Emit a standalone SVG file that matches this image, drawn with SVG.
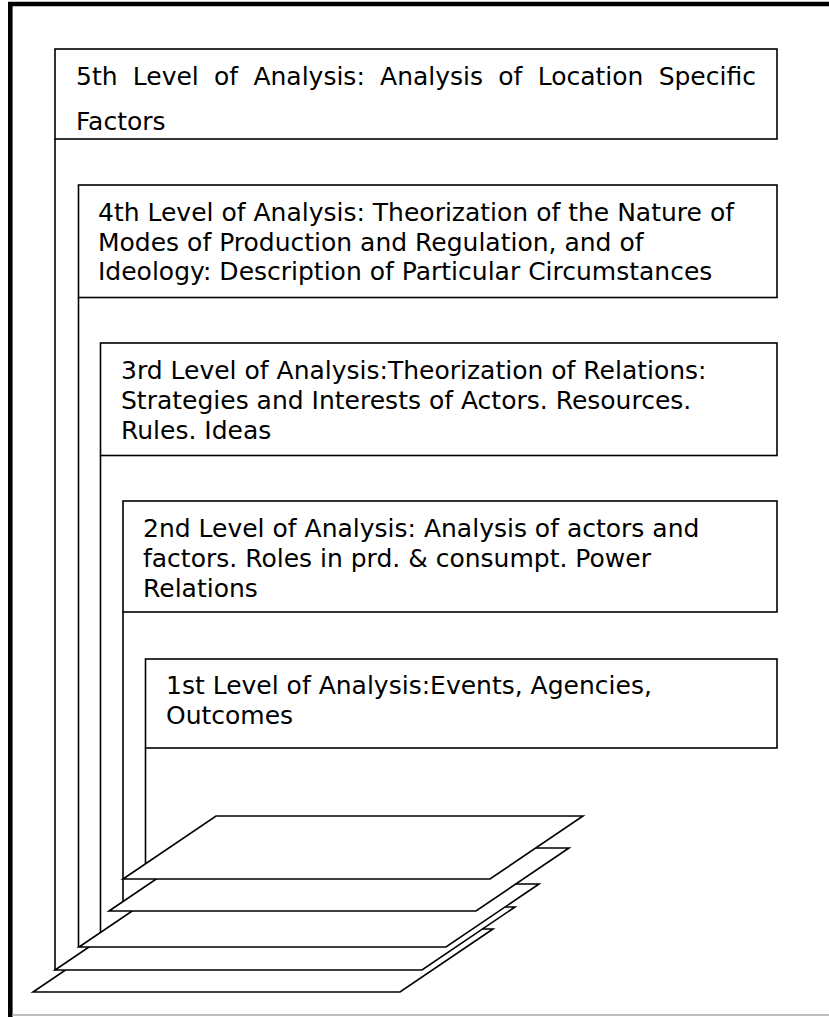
<svg xmlns="http://www.w3.org/2000/svg" width="829" height="1017" viewBox="0 0 829 1017">
  <style>
    .box { fill: #ffffff; stroke: #000000; stroke-width: 1.6; }
    .stem { fill: none; stroke: #000000; stroke-width: 1.6; }
    .plate { fill: #ffffff; stroke: #000000; stroke-width: 1.6; stroke-linejoin: miter; }
    .label { font-family: "DejaVu Sans", Verdana, sans-serif; font-size: 25px; fill: #000000; }
  </style>
  <defs>
    <!-- one stacked plate: bottom-left corner at the origin -->
    <polygon id="plateShape" points="0,0 367,0 460,-63 93,-63"/>
  </defs>

  <rect width="829" height="1017" fill="#ffffff"/>

  <!-- page frame -->
  <g id="frame">
    <line x1="8" y1="4" x2="829" y2="4" stroke="#000" stroke-width="4.5"/>
    <line x1="10.3" y1="2" x2="10.3" y2="1017" stroke="#000" stroke-width="4.6"/>
    <line x1="12" y1="1015" x2="829" y2="1015" stroke="#a8a8a8" stroke-width="1.5"/>
  </g>

  <!-- vertical stems running from each level box down to the plates -->
  <g id="connectors">
    <line class="stem" x1="55" y1="139" x2="55" y2="970"/>
    <line class="stem" x1="78.5" y1="297.5" x2="78.5" y2="947"/>
    <line class="stem" x1="100.5" y1="455.5" x2="100.5" y2="933"/>
    <line class="stem" x1="123" y1="612" x2="123" y2="902"/>
    <line class="stem" x1="145.5" y1="748" x2="145.5" y2="864"/>
  </g>

  <g id="level5">
    <rect class="box" x="55" y="49" width="722" height="90"/>
    <text class="label" x="76" y="85" word-spacing="7.3">5th Level of Analysis: Analysis of Location Specific</text>
    <text class="label" x="76" y="130">Factors</text>
  </g>

  <g id="level4">
    <rect class="box" x="78.5" y="185" width="698.5" height="112.5"/>
    <text class="label" x="98" y="221">4th Level of Analysis: Theorization of the Nature of</text>
    <text class="label" x="98" y="250.5">Modes of Production and Regulation, and of</text>
    <text class="label" x="98" y="280">Ideology: Description of Particular Circumstances</text>
  </g>

  <g id="level3">
    <rect class="box" x="100.5" y="343" width="676.5" height="112.5"/>
    <text class="label" x="121" y="379">3rd Level of Analysis:Theorization of Relations:</text>
    <text class="label" x="121" y="409">Strategies and Interests of Actors. Resources.</text>
    <text class="label" x="121" y="439">Rules. Ideas</text>
  </g>

  <g id="level2">
    <rect class="box" x="123" y="501" width="654" height="111"/>
    <text class="label" x="143" y="537">2nd Level of Analysis: Analysis of actors and</text>
    <text class="label" x="143" y="567">factors. Roles in prd. &amp; consumpt. Power</text>
    <text class="label" x="143" y="596.5">Relations</text>
  </g>

  <g id="level1">
    <rect class="box" x="145.5" y="659" width="631.5" height="89"/>
    <text class="label" x="166" y="694">1st Level of Analysis:Events, Agencies,</text>
    <text class="label" x="166" y="723.5">Outcomes</text>
  </g>

  <!-- stacked plates, lowest first so each upper plate overlaps the one below -->
  <g id="plates">
    <use class="plate" href="#plateShape" x="33" y="992"/>
    <use class="plate" href="#plateShape" x="55" y="970"/>
    <use class="plate" href="#plateShape" x="79" y="947"/>
    <use class="plate" href="#plateShape" x="109" y="911"/>
    <use class="plate" href="#plateShape" x="123" y="879"/>
  </g>
</svg>
